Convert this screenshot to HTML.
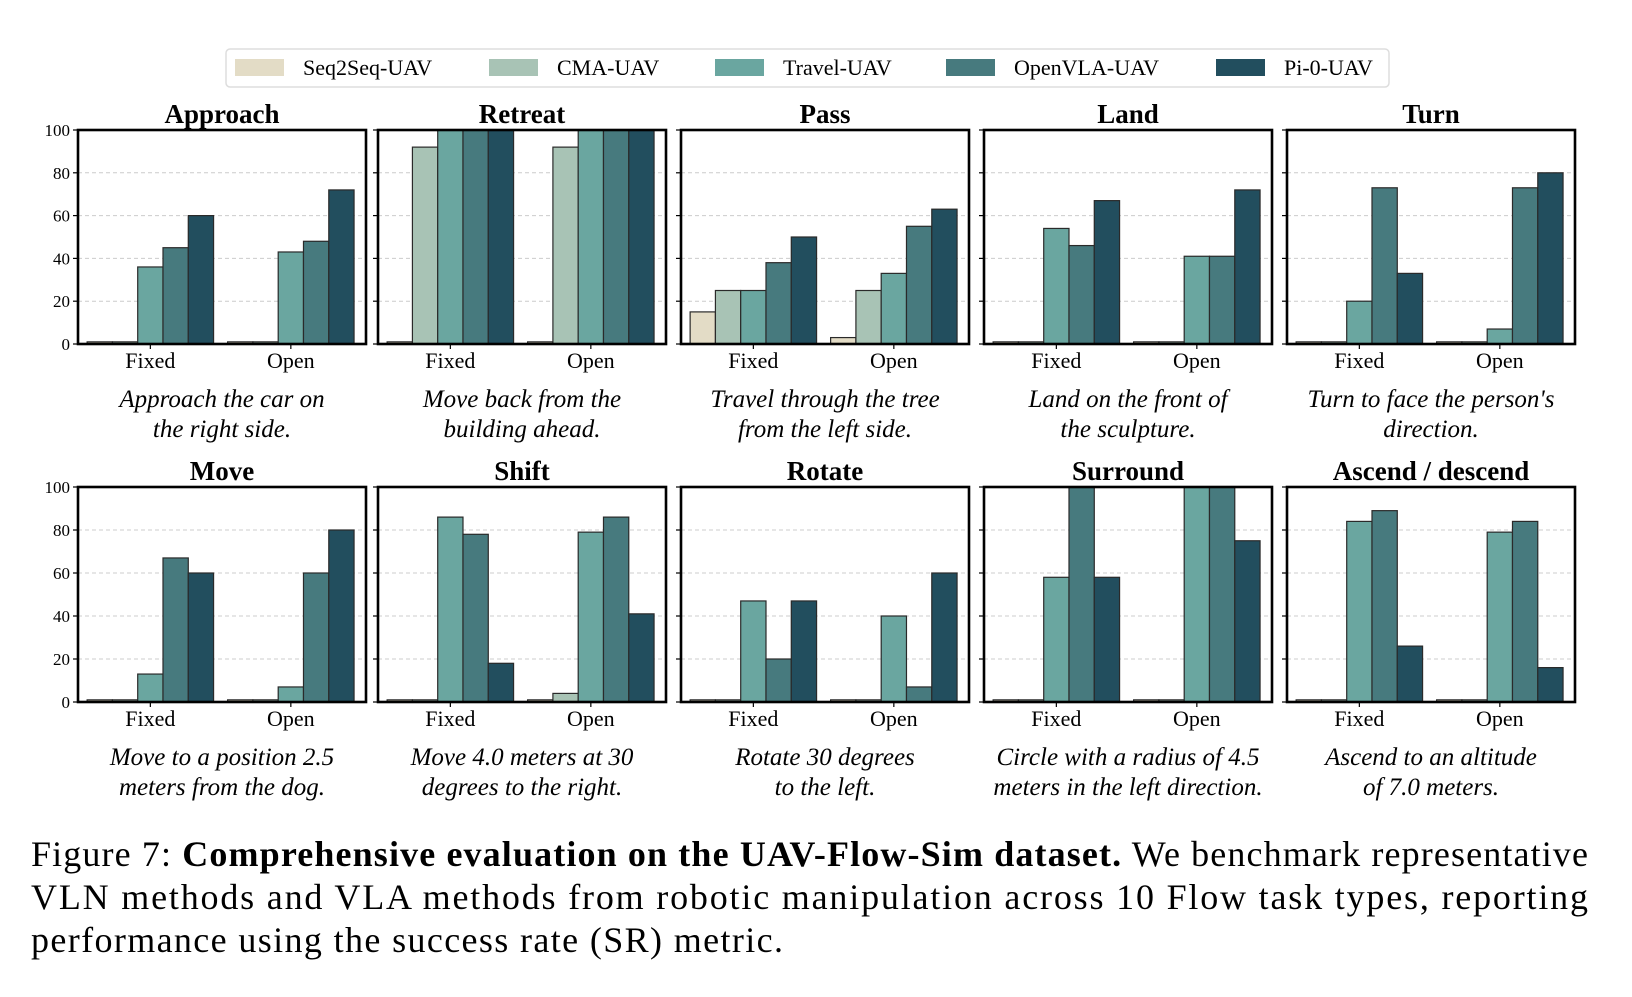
<!DOCTYPE html>
<html><head><meta charset="utf-8">
<style>
body{margin:0;background:#fff;}
svg text{font-family:"Liberation Serif",serif;}
</style></head>
<body>
<svg id="fig" width="1632" height="992" viewBox="0 0 1632 992" xmlns="http://www.w3.org/2000/svg">
<g id="legend"></g>
<g id="panels"></g>
<g font-size="36">
<text x="31" y="866" textLength="1557" lengthAdjust="spacing"><tspan>Figure 7: </tspan><tspan font-weight="bold">Comprehensive evaluation on the UAV-Flow-Sim dataset.</tspan><tspan> We benchmark representative</tspan></text>
<text x="31" y="909" textLength="1557" lengthAdjust="spacing">VLN methods and VLA methods from robotic manipulation across 10 Flow task types, reporting</text>
<text x="31" y="952" textLength="752" lengthAdjust="spacing">performance using the success rate (SR) metric.</text>
</g>
</svg>
<script>
const seriesNames=["Seq2Seq-UAV","CMA-UAV","Travel-UAV","OpenVLA-UAV","Pi-0-UAV"];
const seriesColors=["#e3dcc6","#a8c3b5","#6aa6a0","#477a7e","#224e5e"];
const categories=["Fixed","Open"];
const panelTitles=["Approach","Retreat","Pass","Land","Turn","Move","Shift","Rotate","Surround","Ascend / descend"];
const captions=[["Approach the car on","the right side."],["Move back from the","building ahead."],["Travel through the tree","from the left side."],["Land on the front of","the sculpture."],["Turn to face the person's","direction."],["Move to a position 2.5","meters from the dog."],["Move 4.0 meters at 30","degrees to the right."],["Rotate 30 degrees","to the left."],["Circle with a radius of 4.5","meters in the left direction."],["Ascend to an altitude","of 7.0 meters."]];
const fixedValues=[[1,1,36,45,60],[1,92,100,100,100],[15,25,25,38,50],[1,1,54,46,67],[1,1,20,73,33],[1,1,13,67,60],[1,1,86,78,18],[1,1,47,20,47],[1,1,58,100,58],[1,1,84,89,26]];
const openValues=[[1,1,43,48,72],[1,92,100,100,100],[3,25,33,55,63],[1,1,41,41,72],[1,1,7,73,80],[1,1,7,60,80],[1,4,79,86,41],[1,1,40,7,60],[1,1,100,100,75],[1,1,79,84,16]];
const yTicks=[0,20,40,60,80,100];

const NS="http://www.w3.org/2000/svg";
function mk(tag,attrs,parent){const e=document.createElementNS(NS,tag);for(const k in attrs)e.setAttribute(k,attrs[k]);parent.appendChild(e);return e;}

const lg=document.getElementById('legend');
const lbox=mk('rect',{x:226,y:49,width:1163,height:38,rx:4,fill:'#fff',stroke:'#ddd','stroke-width':1.5},lg);


const legX=[235,489,715,946,1216];
seriesNames.forEach((n,i)=>{
  const g=mk('g',{},lg);
  
  
  mk('rect',{x:legX[i],y:59,width:49,height:17,fill:seriesColors[i]},g);
  const t=mk('text',{x:legX[i]+68,y:75,'font-size':22},g);t.textContent=n;
});

const colX=[78,378,681,984,1287];
const W=288;
const rowTop=[130,487],rowBot=[344,702];
const xmin=-0.515,xmax=1.535,bw=0.18;
const pg=document.getElementById('panels');
panelTitles.forEach((title,p)=>{
  const r=Math.floor(p/5),c=p%5;
  const x0=colX[c],top=rowTop[r],bot=rowBot[r];
  const sx=v=>x0+(v-xmin)/(xmax-xmin)*W;
  const sy=v=>bot-(v/100)*(bot-top);
  const g=mk('g',{},pg);
  
  
  yTicks.forEach(t=>{
    if(t>0&&t<100) mk('line',{x1:x0,x2:x0+W,y1:sy(t),y2:sy(t),stroke:'#ccc','stroke-width':1,'stroke-dasharray':'4,3'},g);
    mk('line',{x1:x0-5,x2:x0,y1:sy(t),y2:sy(t),stroke:'#000','stroke-width':1.2},g);
    if(c===0){const tt=mk('text',{x:x0-8,y:sy(t)+6,'font-size':17,'text-anchor':'end'},g);tt.textContent=t;}
  });
  const vals=[fixedValues[p],openValues[p]];
  categories.forEach((cat,ci)=>{
    vals[ci].forEach((v,si)=>{
      const bx=ci+(si-2)*bw-bw/2;
      const b=mk('rect',{x:sx(bx),y:sy(v),width:sx(bx+bw)-sx(bx),height:sy(0)-sy(v),fill:seriesColors[si],stroke:'#2a2a2a','stroke-width':1.2},g);
      
      
    });
    mk('line',{x1:sx(ci),x2:sx(ci),y1:bot,y2:bot+5,stroke:'#000','stroke-width':1.2},g);
    const xl=mk('text',{x:sx(ci),y:bot+24,'font-size':22,'text-anchor':'middle'},g);xl.textContent=cat;
  });
  mk('rect',{x:x0,y:top,width:W,height:bot-top,fill:'none',stroke:'#000','stroke-width':2.6},g);
  const tt=mk('text',{x:x0+W/2,y:top-7,'font-size':27,'font-weight':'bold','text-anchor':'middle'},g);tt.textContent=title;
  captions[p].forEach((line,li)=>{
    const ct=mk('text',{x:x0+W/2,y:bot+63+li*30,'font-size':25,'font-style':'italic','text-anchor':'middle'},g);ct.textContent=line;
  });
});
</script>
</body></html>
